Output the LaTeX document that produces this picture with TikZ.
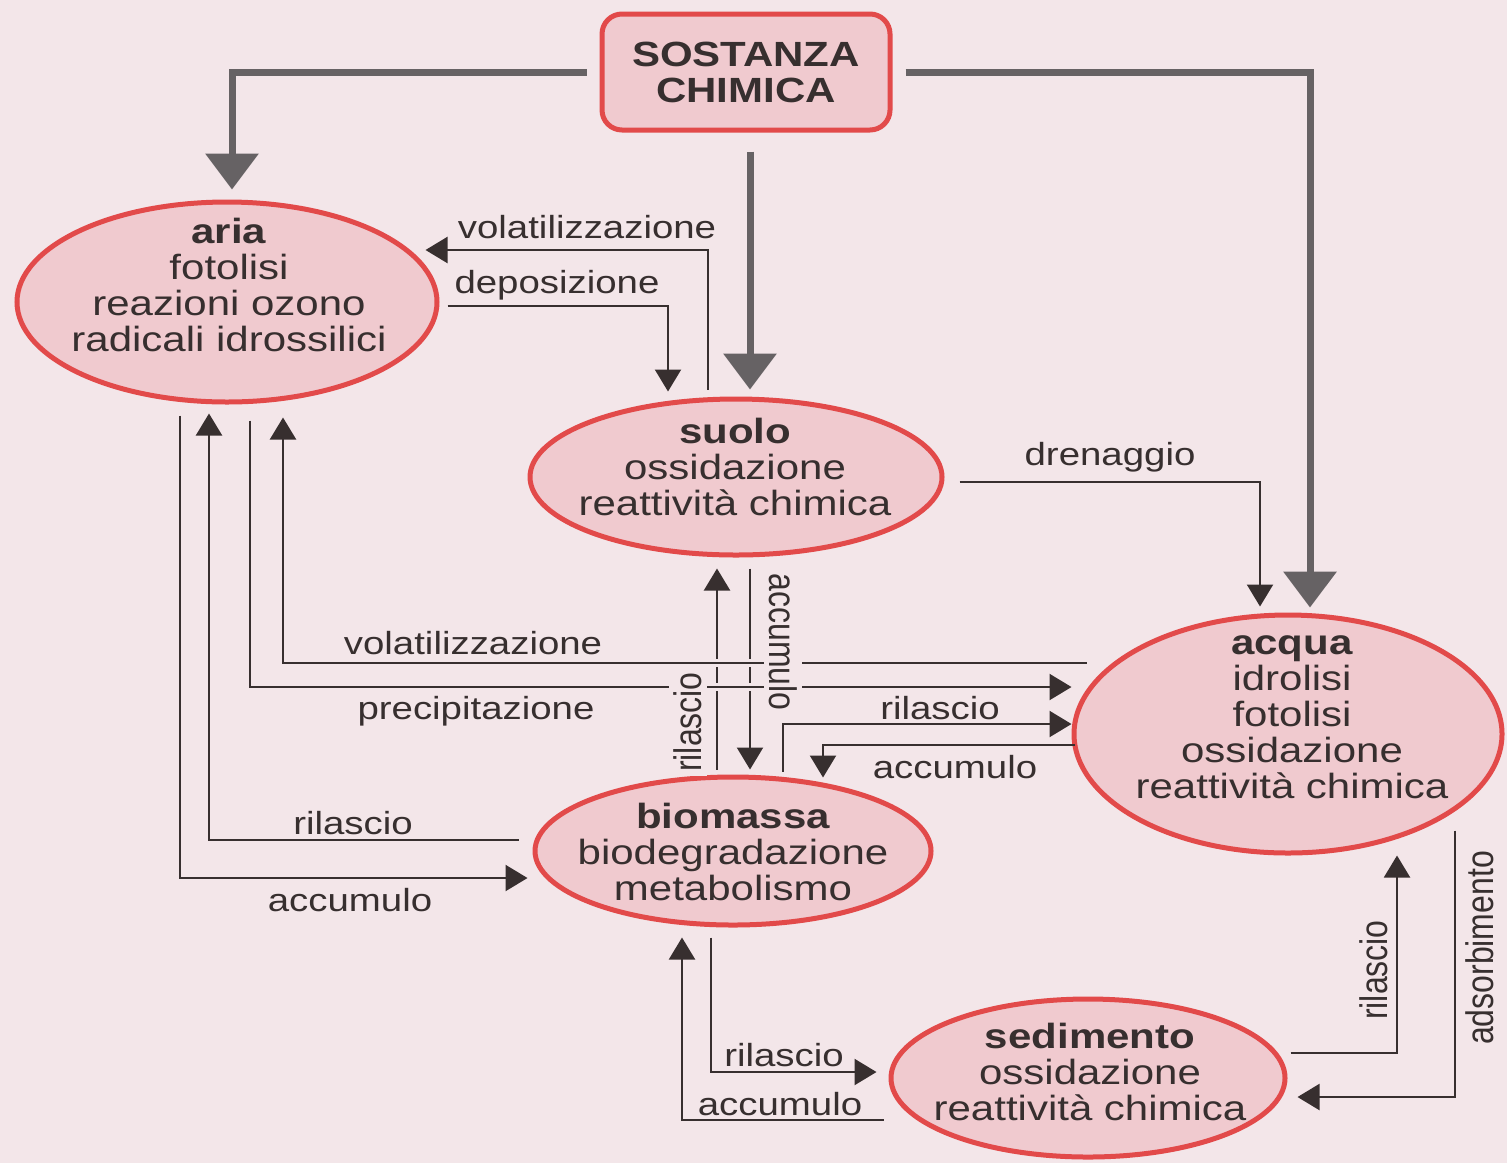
\documentclass[tikz,border=0pt]{standalone}
\usepackage{fontspec}
\setmainfont{Liberation Sans}[FakeStretch=1.2]
\newfontfamily\upright{Liberation Sans}
\usetikzlibrary{arrows.meta,calc,shapes.geometric}

\definecolor{bg}{RGB}{243,230,233}
\definecolor{rim}{RGB}{226,74,74}
\definecolor{blobfill}{RGB}{240,202,207}
\definecolor{ink}{RGB}{55,47,47}
\definecolor{grey}{RGB}{102,98,100}

\begin{document}
\begin{tikzpicture}[x=0.5pt, y=-0.5pt,
    blob/.style={ellipse, draw=rim, fill=blobfill, line width=2.5pt, inner sep=0pt},
    inside/.style={align=center, text=ink, font=\fontsize{17.5}{18}\selectfont},
    lbl/.style={text=ink, font=\fontsize{16}{18}\selectfont, inner sep=1pt},
    vlbl/.style={text=ink, font=\upright\fontsize{16}{18}\selectfont, inner sep=1pt, xscale=1.2, rotate=#1},
    cut/.style={vlbl=#1, fill=bg, inner sep=2pt},
    big/.style={draw=grey, line width=3.5pt, -{Triangle[length=18pt,width=26pt]}},
    flow/.style={draw=ink, line width=1.1pt, -{Triangle[length=11pt,width=13pt]}}]
    \fill[bg] (0,0) rectangle (1507,1163);
    \useasboundingbox (0,0) rectangle (1507,1163);

    % Source box
    \node[draw=rim, fill=blobfill, line width=2.5pt, rounded corners=10pt,
          minimum width=144pt, minimum height=58pt, align=center, text=ink,
          font=\bfseries\fontsize{17.5}{18}\selectfont] (sostanza) at (746,72) {SOSTANZA\\CHIMICA};

    % Compartments
    \node[blob, minimum width=210pt, minimum height=100pt] (aria) at (227,302) {};
    \node[blob, minimum width=206pt, minimum height=78pt] (suolo) at (736,477) {};
    \node[blob, minimum width=214pt, minimum height=119pt] (acqua) at (1288,734) {};
    \node[blob, minimum width=198pt, minimum height=74pt] (biomassa) at (733,851) {};
    \node[blob, minimum width=197pt, minimum height=79pt] (sedimento) at (1088,1078) {};

    \node[inside] (ariaT) at (229,285) {\textbf{aria}\\fotolisi\\reazioni ozono\\radicali idrossilici};
    \node[inside] (suoloT) at (735,467) {\textbf{suolo}\\ossidazione\\reattività chimica};
    \node[inside] (acquaT) at (1292,717) {\textbf{acqua}\\idrolisi\\fotolisi\\ossidazione\\reattività chimica};
    \node[inside] (biomassaT) at (733,852) {\textbf{biomassa}\\biodegradazione\\metabolismo};
    \node[inside] (sedimentoT) at (1090,1072) {\textbf{sedimento}\\ossidazione\\reattività chimica};

    % Inputs from the source
    \draw[big] ($(sostanza.west)+(-13,0)$) -| ($(aria.north)+(5,-10)$);
    \draw[big] ($(sostanza.south)+(4,19)$) -- ($(suolo.north)+(14,-7)$);
    \draw[big] ($(sostanza.east)+(13,0)$) -| ($(acqua.north)+(22,-5)$);

    % aria <-> suolo
    \draw[flow] ($(suolo.north)+(-28,-7)$) |- ($(aria.east)+(-14,-52)$);
    \draw[flow] ($(aria.east)+(8,4)$) -| ($(suolo.north)+(-68,-5)$);
    \node[lbl] (volA) at (587,227) {volatilizzazione};
    \node[lbl] (depo) at (557,285) {deposizione};

    % suolo -> acqua
    \draw[flow] ($(suolo.east)+(15,5)$) -| ($(acqua.north)+(-28,-6)$);
    \node[lbl] (dren) at (1110,457) {drenaggio};

    % suolo <-> biomassa
    \draw[flow] ($(biomassa.north)+(-16,-5)$) -- ($(suolo.south)+(-19,11)$);
    \draw[flow] ($(suolo.south)+(14,11)$) -- ($(biomassa.north)+(17,-5)$);

    % acqua <-> aria
    \draw[flow, preaction={draw=bg, line width=4pt, -}] ($(acqua.west)+(15,-71)$) -| ($(aria.south)+(56,13)$);
    \draw[flow, preaction={draw=bg, line width=4pt, -}] ($(aria.south)+(23,16)$) |- ($(acqua.west)+(0,-47)$);
    \node[lbl] (volB) at (473,643) {volatilizzazione};
    \node[lbl] (prec) at (476,711) {precipitazione};
    \node[cut=90] (rilSB) at (688,722) {rilascio};
    \node[cut=-90] (accSB) at (783,642) {accumulo};

    % biomassa <-> acqua
    \draw[flow] ($(biomassa.north)+(50,-3)$) |- ($(acqua.west)+(0,-10)$);
    \draw[flow] ($(acqua.west)+(3,11)$) -| ($(biomassa.north)+(90,3)$);
    \node[lbl] (rilBW) at (940,708) {rilascio};
    \node[lbl] (accWB) at (955,767) {accumulo};

    % biomassa <-> aria
    \draw[flow] ($(biomassa.west)+(-14,-11)$) -| ($(aria.south)+(-18,9)$);
    \draw[flow] ($(aria.south)+(-47,11)$) |- ($(biomassa.west)+(-5,27)$);
    \node[lbl] (rilBA) at (353,823) {rilascio};
    \node[lbl] (accAB) at (350,900) {accumulo};

    % biomassa <-> sedimento
    \draw[flow] ($(biomassa.south)+(-22,10)$) |- ($(sedimento.west)+(-12,-6)$);
    \draw[flow] ($(sedimento.west)+(-5,42)$) -| ($(biomassa.south)+(-51,10)$);
    \node[lbl] (rilBS) at (784,1055) {rilascio};
    \node[lbl] (accSeB) at (780,1104) {accumulo};

    % sedimento <-> acqua
    \draw[flow] ($(sedimento.east)+(3,-25)$) -| ($(acqua.south)+(109,0)$);
    \draw[flow] ($(acqua.south)+(167,-25)$) |- ($(sedimento.east)+(10,19)$);
    \node[vlbl=90] (rilSW) at (1374,970) {rilascio};
    \node[vlbl=90] (adso) at (1480,948) {adsorbimento};
\end{tikzpicture}
\end{document}
